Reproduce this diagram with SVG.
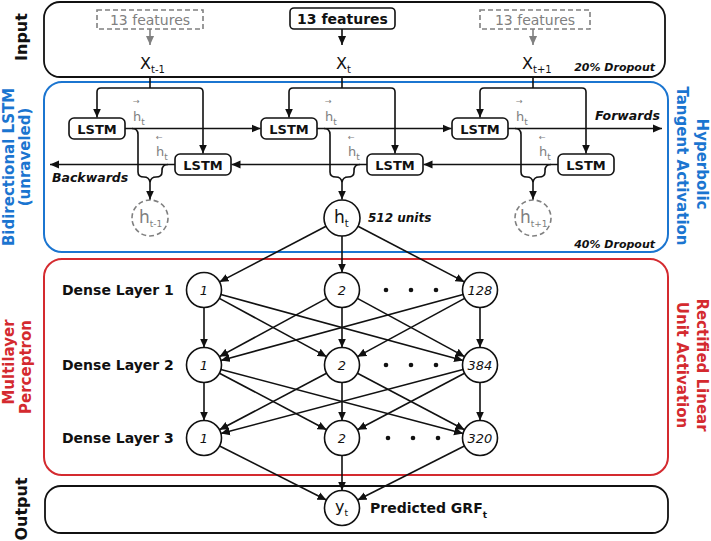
<svg xmlns="http://www.w3.org/2000/svg" width="711" height="541" viewBox="0 0 711 541">
<style>
text{font-family:"DejaVu Sans","Liberation Sans",sans-serif;fill:#111}
.b{font-weight:bold}
.bi{font-weight:bold;font-style:italic}
.g{fill:#808080}
.ln{fill:none;stroke:#111;stroke-width:1.6}
.lg{fill:none;stroke:#808080;stroke-width:1.6}
.a{marker-end:url(#ah)}
.ag{marker-end:url(#ahg)}
.box{fill:#fff;stroke:#111;stroke-width:1.6}
.nd{fill:#fff;stroke:#111;stroke-width:1.6}
.dn{fill:#fff;stroke:#808080;stroke-width:1.6;stroke-dasharray:5 3}
.blue{fill:#1b75d0}
.red{fill:#d42a2f}
.ni{font-style:italic;font-size:13px;text-anchor:middle}
.ar{font-size:8px}
</style>
<defs>
<marker id="ah" viewBox="0 0 10 10" refX="10" refY="5" markerWidth="9" markerHeight="9" markerUnits="userSpaceOnUse" orient="auto"><path d="M0,0.5 L10,5 L0,9.5 z" fill="#111"/></marker>
<marker id="ahg" viewBox="0 0 10 10" refX="10" refY="5" markerWidth="9" markerHeight="9" markerUnits="userSpaceOnUse" orient="auto"><path d="M0,0.5 L10,5 L0,9.5 z" fill="#808080"/></marker>
</defs>

<!-- section frames -->
<g id="frames">
<rect x="44" y="2" width="621" height="75" rx="16" fill="none" stroke="#111" stroke-width="1.8"/>
<rect x="44" y="82" width="624" height="170" rx="18" fill="none" stroke="#1b75d0" stroke-width="2"/>
<rect x="44" y="259" width="624" height="216" rx="18" fill="none" stroke="#d42a2f" stroke-width="2"/>
<rect x="45" y="486" width="623" height="47" rx="16" fill="none" stroke="#111" stroke-width="1.8"/>
</g>

<g id="side-labels">
<text class="b" font-size="16" text-anchor="middle" transform="translate(27,37) rotate(-90)">Input</text>
<text class="b blue" font-size="15" text-anchor="middle" transform="translate(14,167) rotate(-90)">Bidirectional LSTM</text>
<text class="b blue" font-size="15" text-anchor="middle" transform="translate(30,157) rotate(-90)">(unraveled)</text>
<text class="b blue" font-size="15" text-anchor="middle" transform="translate(697,164) rotate(90)">Hyperbolic</text>
<text class="b blue" font-size="15" text-anchor="middle" transform="translate(677,166) rotate(90)">Tangent Activation</text>
<text class="b red" font-size="15" text-anchor="middle" transform="translate(14,362) rotate(-90)">Multilayer</text>
<text class="b red" font-size="15" text-anchor="middle" transform="translate(31,367) rotate(-90)">Perceptron</text>
<text class="b red" font-size="15" text-anchor="middle" transform="translate(697,365) rotate(90)">Rectified Linear</text>
<text class="b red" font-size="15" text-anchor="middle" transform="translate(677,365) rotate(90)">Unit Activation</text>
<text class="b" font-size="16" text-anchor="middle" transform="translate(27,509) rotate(-90)">Output</text>
</g>

<!-- inputs -->
<g id="in-prev">
<rect x="97" y="10" width="106" height="19" fill="none" stroke="#808080" stroke-width="1.6" stroke-dasharray="5 3"/>
<text class="g" x="150" y="25" font-size="14" text-anchor="middle">13 features</text>
</g>
<g id="in-cur">
<rect x="290" y="8" width="105" height="21" rx="4" class="box"/>
<text class="b" x="342.5" y="24" font-size="14" text-anchor="middle">13 features</text>
</g>
<g id="in-next">
<rect x="480" y="10" width="110" height="19" fill="none" stroke="#808080" stroke-width="1.6" stroke-dasharray="5 3"/>
<text class="g" x="535" y="25" font-size="14" text-anchor="middle">13 features</text>
</g>
<g id="x-labels">
<text x="140" y="69" font-size="16">X<tspan font-size="10" dy="4">t-1</tspan></text>
<text x="336" y="69" font-size="16">X<tspan font-size="10" dy="4">t</tspan></text>
<text x="522" y="69" font-size="16">X<tspan font-size="10" dy="4">t+1</tspan></text>
<text class="bi" x="655" y="71" font-size="11" text-anchor="end">20% Dropout</text>
</g>

<!-- LSTM cells -->
<g id="lstm-f1"><rect x="69" y="118" width="56" height="21" rx="5" class="box"/><text class="b" x="97" y="133.5" font-size="13" text-anchor="middle">LSTM</text></g>
<g id="lstm-f2"><rect x="261" y="118" width="56" height="21" rx="5" class="box"/><text class="b" x="289" y="133.5" font-size="13" text-anchor="middle">LSTM</text></g>
<g id="lstm-f3"><rect x="452" y="118" width="56" height="21" rx="5" class="box"/><text class="b" x="480" y="133.5" font-size="13" text-anchor="middle">LSTM</text></g>
<g id="lstm-b1"><rect x="175" y="154" width="56" height="21" rx="5" class="box"/><text class="b" x="203" y="169.5" font-size="13" text-anchor="middle">LSTM</text></g>
<g id="lstm-b2"><rect x="367" y="154" width="56" height="21" rx="5" class="box"/><text class="b" x="395" y="169.5" font-size="13" text-anchor="middle">LSTM</text></g>
<g id="lstm-b3"><rect x="558" y="154" width="56" height="21" rx="5" class="box"/><text class="b" x="586" y="169.5" font-size="13" text-anchor="middle">LSTM</text></g>

<g id="lstm-labels">
<text class="bi" x="595" y="120" font-size="12.5">Forwards</text>
<text class="bi" x="52" y="182" font-size="12.5">Backwards</text>
<text class="g" x="133" y="121" font-size="13">h<tspan font-size="9" dy="4">t</tspan></text>
<text class="g ar" x="133" y="104">→</text>
<text class="g" x="325" y="121" font-size="13">h<tspan font-size="9" dy="4">t</tspan></text>
<text class="g ar" x="325" y="104">→</text>
<text class="g" x="516" y="121" font-size="13">h<tspan font-size="9" dy="4">t</tspan></text>
<text class="g ar" x="516" y="104">→</text>
<text class="g" x="156" y="156" font-size="13">h<tspan font-size="9" dy="4">t</tspan></text>
<text class="g ar" x="156" y="140">←</text>
<text class="g" x="348" y="156" font-size="13">h<tspan font-size="9" dy="4">t</tspan></text>
<text class="g ar" x="348" y="140">←</text>
<text class="g" x="539" y="156" font-size="13">h<tspan font-size="9" dy="4">t</tspan></text>
<text class="g ar" x="539" y="140">←</text>
<text class="bi" x="368" y="222" font-size="12">512 units</text>
<text class="bi" x="655" y="248" font-size="11" text-anchor="end">40% Dropout</text>
</g>

<!-- hidden states -->
<g id="h-prev"><circle cx="150" cy="218" r="18" class="dn"/><text class="g" x="139" y="223" font-size="17">h<tspan font-size="9" dy="4">t-1</tspan></text></g>
<g id="h-cur"><circle cx="342" cy="218" r="18" class="nd"/><text x="334" y="223" font-size="17">h<tspan font-size="10" dy="4">t</tspan></text></g>
<g id="h-next"><circle cx="533" cy="218" r="18" class="dn"/><text class="g" x="520" y="223" font-size="17">h<tspan font-size="9" dy="4">t+1</tspan></text></g>

<!-- dense layers -->
<g id="dense-labels">
<text class="b" x="62" y="295" font-size="14">Dense Layer 1</text>
<text class="b" x="62" y="370" font-size="14">Dense Layer 2</text>
<text class="b" x="62" y="443" font-size="14">Dense Layer 3</text>
</g>
<g id="l1-1"><circle cx="204" cy="290" r="17.5" class="nd"/><text class="ni" x="204" y="294.5">1</text></g>
<g id="l1-2"><circle cx="342" cy="290" r="17.5" class="nd"/><text class="ni" x="342" y="294.5">2</text></g>
<g id="l1-128"><circle cx="480" cy="290" r="17.5" class="nd"/><text class="ni" x="480" y="294.5">128</text></g>
<g id="l2-1"><circle cx="204" cy="365" r="17.5" class="nd"/><text class="ni" x="204" y="369.5">1</text></g>
<g id="l2-2"><circle cx="342" cy="365" r="17.5" class="nd"/><text class="ni" x="342" y="369.5">2</text></g>
<g id="l2-384"><circle cx="480" cy="365" r="17.5" class="nd"/><text class="ni" x="480" y="369.5">384</text></g>
<g id="l3-1"><circle cx="204" cy="438" r="17.5" class="nd"/><text class="ni" x="204" y="442.5">1</text></g>
<g id="l3-2"><circle cx="342" cy="438" r="17.5" class="nd"/><text class="ni" x="342" y="442.5">2</text></g>
<g id="l3-320"><circle cx="480" cy="438" r="17.5" class="nd"/><text class="ni" x="480" y="442.5">320</text></g>
<g id="ellipses" fill="#111">
<circle cx="386" cy="290" r="2.3"/><circle cx="411" cy="290" r="2.3"/><circle cx="436" cy="290" r="2.3"/>
<circle cx="386" cy="365" r="2.3"/><circle cx="411" cy="365" r="2.3"/><circle cx="436" cy="365" r="2.3"/>
<circle cx="388" cy="438" r="2.3"/><circle cx="413" cy="438" r="2.3"/><circle cx="438" cy="438" r="2.3"/>
</g>

<!-- output -->
<g id="out-y"><circle cx="342" cy="508" r="17.5" class="nd"/><text x="335" y="512" font-size="16">y<tspan font-size="9" dy="4">t</tspan></text></g>
<g id="out-label"><text class="b" x="370" y="513" font-size="14">Predicted GRF<tspan font-size="9" dy="5">t</tspan></text></g>

<!-- connectors -->
<g id="connectors">
<path class="lg ag" d="M150,29 V45"/>
<path class="ln a" d="M342,29 V45"/>
<path class="lg ag" d="M533,29 V45"/>

<path class="ln" d="M150,77 V88 M342,77 V88 M533,77 V88"/>
<path class="ln a" d="M150,88 H101 Q97,88 97,92 V117.5"/>
<path class="ln a" d="M150,88 H199 Q203,88 203,92 V153.5"/>
<path class="ln a" d="M342,88 H293 Q289,88 289,92 V117.5"/>
<path class="ln a" d="M342,88 H391 Q395,88 395,92 V153.5"/>
<path class="ln a" d="M533,88 H484 Q480,88 480,92 V117.5"/>
<path class="ln a" d="M533,88 H582 Q586,88 586,92 V153.5"/>

<path class="ln a" d="M125,128.5 H260.5"/>
<path class="ln a" d="M317,128.5 H451.5"/>
<path class="ln a" d="M508,128.5 H662"/>
<path class="ln a" d="M558,164.5 H423.5"/>
<path class="ln a" d="M367,164.5 H231.5"/>
<path class="ln a" d="M175,164.5 H50"/>

<path class="ln" d="M132,128.5 Q138,128.5 138,134.5 V172 M168,164.5 Q162,164.5 162,170.5 V172 M138,172 Q138,177 144,177 Q149,177 150,182 Q151,177 156,177 Q162,177 162,172"/>
<path class="ln a" d="M150,182 V199.5"/>
<path class="ln" d="M324,128.5 Q330,128.5 330,134.5 V172 M360,164.5 Q354,164.5 354,170.5 V172 M330,172 Q330,177 336,177 Q341,177 342,182 Q343,177 348,177 Q354,177 354,172"/>
<path class="ln a" d="M342,182 V199.5"/>
<path class="ln" d="M515,128.5 Q521,128.5 521,134.5 V172 M551,164.5 Q545,164.5 545,170.5 V172 M521,172 Q521,177 527,177 Q532,177 533,182 Q534,177 539,177 Q545,177 545,172"/>
<path class="ln a" d="M533,182 V199.5"/>

<path class="ln a" d="M326.04,226.33 L219.52,281.9"/>
<path class="ln a" d="M342,236 V272.5"/>
<path class="ln a" d="M357.96,226.33 L464.48,281.9"/>

<path class="ln a" d="M204,307.5 V347.5"/>
<path class="ln a" d="M219.38,298.36 L326.62,356.64"/>
<path class="ln a" d="M220.89,294.59 L463.11,360.41"/>
<path class="ln a" d="M326.62,298.36 L219.38,356.64"/>
<path class="ln a" d="M342,307.5 V347.5"/>
<path class="ln a" d="M357.38,298.36 L464.62,356.64"/>
<path class="ln a" d="M463.11,294.59 L220.89,360.41"/>
<path class="ln a" d="M464.62,298.36 L357.38,356.64"/>
<path class="ln a" d="M480,307.5 V347.5"/>

<path class="ln a" d="M204,382.5 V420.5"/>
<path class="ln a" d="M219.47,373.18 L326.53,429.82"/>
<path class="ln a" d="M220.92,369.47 L463.08,433.53"/>
<path class="ln a" d="M326.53,373.18 L219.47,429.82"/>
<path class="ln a" d="M342,382.5 V420.5"/>
<path class="ln a" d="M357.47,373.18 L464.53,429.82"/>
<path class="ln a" d="M463.08,369.47 L220.92,433.53"/>
<path class="ln a" d="M464.53,373.18 L357.47,429.82"/>
<path class="ln a" d="M480,382.5 V420.5"/>

<path class="ln a" d="M219.61,445.92 L326.39,500.08"/>
<path class="ln a" d="M342,455.5 V490.5"/>
<path class="ln a" d="M464.39,445.92 L357.61,500.08"/>
</g>
</svg>
